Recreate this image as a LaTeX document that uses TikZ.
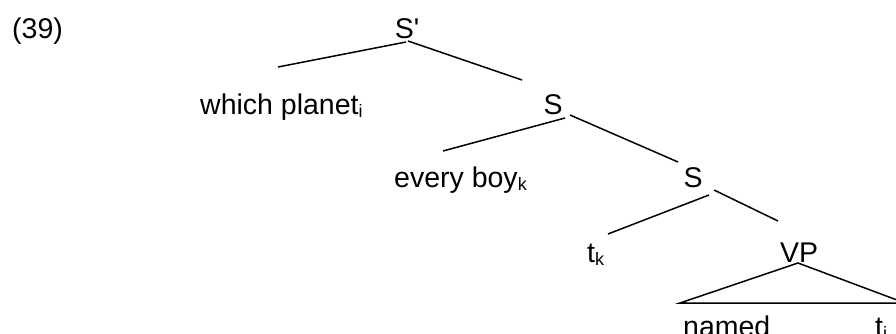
\documentclass[tikz,border=0pt]{standalone}
\usepackage{fontspec}
\setmainfont{Liberation Sans}[Ligatures=TeXOff]
\newcommand{\sbs}[1]{\raisebox{-0.12em}{\fontsize{18}{18}\selectfont #1}}
\begin{document}
\begin{tikzpicture}[x=1pt,y=-1pt,
  lbl/.style={inner sep=0pt,font=\fontsize{28.5}{32}\selectfont},
  lw/.style={lbl,anchor=base west},
  lc/.style={lbl,anchor=base},
  edge/.style={line width=1.5pt}]
\clip (0,0) rectangle (896,334);
\fill[white] (0,0) rectangle (896,334);
\node[lw] (num) at (12,39) {(39)};
\node[lc] (Sp) at (407,39) {S'};
\node[lw] (wp) at (200,114) {which planet\sbs{i}};
\node[lc] (S1) at (553,114) {S};
\node[lw] (eb) at (394,187) {every boy\sbs{k}};
\node[lc] (S2) at (693,187) {S};
\node[lw] (tk) at (587,262) {t\sbs{k}};
\node[lc] (VP) at (799,262) {VP};
\node[lw] (nm) at (683,336) {named};
\node[lw] (ti) at (875,336) {t\sbs{i}};
% connector end points
\coordinate (a1) at (406,42);
\coordinate (a2) at (278,67);
\coordinate (a3) at (408,41);
\coordinate (a4) at (522,80);
\coordinate (b1) at (565,118);
\coordinate (b2) at (443,151);
\coordinate (b3) at (570,115);
\coordinate (b4) at (678,162);
\coordinate (c1) at (709,195);
\coordinate (c2) at (608,234);
\coordinate (c3) at (714,190);
\coordinate (c4) at (778,221);
\coordinate (tA) at (798,263);
\coordinate (tL) at (680,303);
\coordinate (tR) at (905,303);
\draw[edge] (a1) -- (a2);
\draw[edge] (a3) -- (a4);
\draw[edge] (b1) -- (b2);
\draw[edge] (b3) -- (b4);
\draw[edge] (c1) -- (c2);
\draw[edge] (c3) -- (c4);
\draw[edge] (tL) -- (tA) -- (tR) -- cycle;
\end{tikzpicture}
\end{document}
